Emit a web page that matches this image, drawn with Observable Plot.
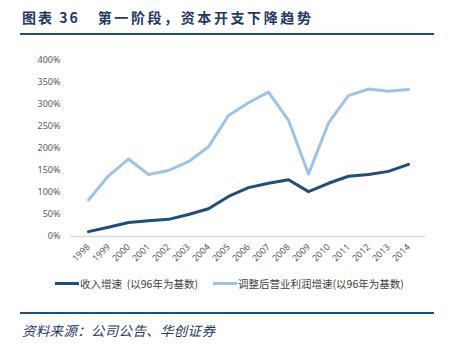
<!DOCTYPE html>
<html><head><meta charset="utf-8">
<script src="https://cdn.jsdelivr.net/npm/d3@7"></script>
<script src="https://cdn.jsdelivr.net/npm/@observablehq/plot@0.6"></script>
<style>
body{margin:0;background:#fff;width:451px;height:344px;position:relative;overflow:hidden;font-family:"Noto Sans CJK SC","Noto Sans",sans-serif;}
#title{position:absolute;left:22px;top:7px;font-size:14px;font-weight:bold;color:#1F3864;white-space:pre;}
#title .t1{letter-spacing:2px;}
#title .t2{letter-spacing:2.6px;}
#rule1{position:absolute;left:20px;top:33px;width:414px;height:2px;background:#1F4E79;}
#chart{position:absolute;left:0;top:45px;}
#legend{position:absolute;top:275px;left:0;width:451px;font-size:10.5px;color:#404040;white-space:pre;}
.it{position:absolute;top:0;display:flex;align-items:center;height:16px;}
.sw{display:inline-block;width:24px;height:3px;margin-right:1px;}
#rule2{position:absolute;left:20px;top:312px;width:414px;height:2px;background:#1F4E79;}
#cap{position:absolute;left:22px;top:320px;font-size:13.5px;font-style:italic;color:#1F3864;letter-spacing:0.3px;}
</style></head>
<body>
<div id="title"><span class="t1">图表 36</span><span style="display:inline-block;width:18px"></span><span class="t2">第一阶段，资本开支下降趋势</span></div>
<div id="rule1"></div>
<div id="chart"></div>
<div id="legend">
 <div class="it" style="left:55px"><span class="sw" style="background:#1F4E79"></span><span id="l1"></span></div>
 <div class="it" style="left:213px"><span class="sw" style="background:#9DC3E6"></span><span id="l2"></span></div>
</div>
<div id="rule2"></div>
<div id="cap">资料来源：公司公告、华创证券</div>
<script>
const years = ["1998","1999","2000","2001","2002","2003","2004","2005","2006","2007","2008","2009","2010","2011","2012","2013","2014"];
const revenueGrowth = [11,21,32,36,39,50,63,91,111,121,129,102,121,137,141,148,164];
const profitGrowth = [83,138,176,141,150,170,204,275,304,328,264,142,258,320,335,330,334];
const yTicks = [0,50,100,150,200,250,300,350,400];
const seriesNames = ["收入增速  (以96年为基数)","调整后营业利润增速(以96年为基数)"];

document.getElementById("l1").textContent = seriesNames[0];
document.getElementById("l2").textContent = seriesNames[1];

const data = [];
years.forEach((y,i)=>{
  data.push({year:y, value:revenueGrowth[i], s:seriesNames[0]});
  data.push({year:y, value:profitGrowth[i], s:seriesNames[1]});
});

const chart = Plot.plot({
  width: 451,
  height: 230,
  marginTop: 15,
  marginBottom: 39,
  marginLeft: 70,
  marginRight: 26,
  style: {fontFamily: "'Noto Sans','Noto Sans CJK SC',sans-serif", fontSize: "9px", color: "#595959", background: "transparent"},
  x: {type: "point", domain: years, padding: 0.5, label: null, tickSize: 0, tickRotate: -45, tickPadding: 9},
  y: {domain: [0,400], ticks: yTicks, tickFormat: d => d + "%", label: null, tickSize: 0, tickPadding: 10},
  color: {domain: seriesNames, range: ["#1F4E79", "#9DC3E6"]},
  marks: [
    Plot.ruleY([0], {stroke: "#D9D9D9", strokeWidth: 1.5}),
    Plot.line(data, {x: "year", y: "value", z: "s", stroke: "s", strokeWidth: 3, curve: "linear"})
  ]
});
document.getElementById("chart").appendChild(chart);
</script>
</body></html>
